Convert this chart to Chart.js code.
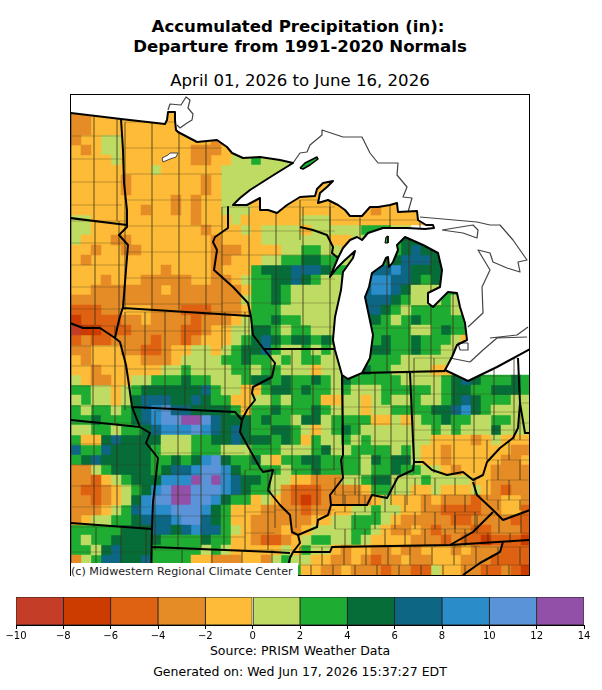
<!DOCTYPE html>
<html>
<head>
<meta charset="utf-8">
<title>Accumulated Precipitation</title>
<script src="https://cdn.jsdelivr.net/npm/chart.js@4/dist/chart.umd.min.js"></script>
<style>
  body { margin: 0; background: #fff; font-family: "DejaVu Sans", sans-serif; color: #000; }
  .txt { position: absolute; left: 0; width: 600px; text-align: center; white-space: nowrap; }
  canvas { position: absolute; }
  #mapChart { left: 71px; top: 95px; outline: 1px solid #000; }
  #barChart { left: 0; top: 590px; }
  #credit { position: absolute; left: 71px; top: 563px; width: 227px; height: 17px; background: #fff; font-size: 11.15px; line-height: 17px; color: #222; white-space: nowrap; }
</style>
</head>
<body>
<div class="txt" style="top:17px;left:-2px;font-size:16.6px;font-weight:bold;line-height:20px">Accumulated Precipitation (in):</div>
<div class="txt" style="top:37px;font-size:16.6px;font-weight:bold;line-height:20px">Departure from 1991-2020 Normals</div>
<div class="txt" style="top:71px;font-size:16.6px;line-height:20px">April 01, 2026 to June 16, 2026</div>
<canvas id="mapChart" width="458" height="480"></canvas>
<div id="credit">(c) Midwestern Regional Climate Center</div>
<canvas id="barChart" width="602" height="53"></canvas>
<div class="txt" style="top:643px;font-size:12.5px;line-height:16px">Source: PRISM Weather Data</div>
<div class="txt" style="top:664px;font-size:12.5px;line-height:16px">Generated on: Wed Jun 17, 2026 15:37:27 EDT</div>

<script>
// colour classes, one letter per 2 inch bin
var classEdges = [-10, -8, -6, -4, -2, 0, 2, 4, 6, 8, 10, 12, 14];
var classCodes = "abcdefghijkl";
var classColors = ["#c43d27", "#cc3c00", "#de6211", "#e58c26", "#fdbb37", "#bedc63",
                   "#1fac32", "#066c38", "#0d6684", "#2a8dca", "#5b93d9", "#9350a8"];

// departure class per map cell (10 map units a cell)
var gridRows = [
  "",
  "ddeeeeeeeeeeeeeeee",
  "ddeeeeeeeeeeeeeeee",
  "ddeeeeeeeeeeeeeeeee",
  "deeffeeeeeeeeeddeee",
  "edeffeeeeeeedddeeffff",
  "eeeefeeeeeeeddeeffgfffff",
  "eeeeeeeefeeeeeefffffff",
  "eeeeedeeeeeeedeffffffffeeee",
  "eeeeedeeeeeeedeffffffffeeee",
  "eeeeeeeeeededeeffeeeeeeeeeeeeeeeeeee",
  "eeeeeeedeededeefffeeeeeeeeeeeedeeeeeee",
  "ffeeeeeeeeeedeeefeeeeeefffeeeeeeeeeeee",
  "ffeeeeeeeeeeedeeefeffffefffffgggff",
  "feeeddeeeeeeeedeeeefffffffeeffggghh",
  "eedeeddeeeeeeedddeeeeffggffefgggghihh",
  "edeeeeeeeeeeeeddeeeffgghhggffggghiiihh",
  "eeeeeeeeedeeeedeeeghhhiiihggggiijihhh",
  "eeedeeedddddeeddefgghhihgffgggjjiihghh",
  "eedddddddedddddddegghgfffffffijjihfffgg",
  "dddddddddddddddddfgghgfffffffiiihgfffgff",
  "cccddeeedddcccdddegggffffffffiihgfggggfg",
  "bccccddeddddcdddefgghggffffffhhgfghggggg",
  "abbcccdddddccdeeffhhgfggfffffgggggffghgg",
  "cdccddddcddcdeeefghihghhghgffgghgghgggfe",
  "ddeeeddccdeeffefghhigffgfgfffghhgghggff",
  "edeeeeedddeffffgghggfgfggffffggggffffff",
  "eedeeeeeeffgffffggfggfffeffffhggffffeef",
  "feddeeffggghggfffghhghgghgfhgggggffffghihggghg",
  "ggffefghhhhhhigffeeghhghggfgfffgggggfghhgghhhg",
  "fgffefhiiihhihggeeffgfgggeeffefgffgffghihgggff",
  "gfggfghijkiihhhhgegghggghgfffeffgggghhijhgffff",
  "gghggghijkkllkihhhghggfhhfggggeefefgghggffggff",
  "ffggfgghijjjkjihihgghhgfefghgfffffffgfgfffhfff",
  "geehihhhhfffgghhihhhghgegffgfgffffffeeeedefeee",
  "iggihhhhgfffgggfffgggfffghffggggfgfeedeeeeeedd",
  "ghihhhhhgghghjkhgghfegghhggggfhghhfeedeeeeedde",
  "ddfghhhhghiijkkjhggggfgghggggfgghggffedeeedddd",
  "ddcefghhhjjjlkljihhgffeedddffghhfffgffffeedddd",
  "dccdefghjkllkkkjihggfdcccddddeggffeefeeefedcdd",
  "ddcdefhjkkllkkjhggefedcbcdddddefeeededddcddeed",
  "dddefgijjjkkkjhgeeeddddcddeeffgffeeddccccddeec",
  "deffgghiiijkkihgeeddddddeeffgggfedddddccddddcc",
  "ggggghhhiihijiigfedddedeffffggfeddedcdddccdddc",
  "gfgghhhhhgggghggeedccdefggffgfeeeedddcdccbcccb",
  "ggfhihhhgggggfgfeeeeefegffedeeddeddeeededddccc",
  "dfgiihhiggggeedddeedfgffeeddedcddeddeeedddccccc",
  "gggggggggggggggggggggggeeddedddcddccfeeddccdcb"
];

// county line blocks: x0, x1, y0, y1, dx, dy, staggered
var countyBlocks = [
  [71, 122, 113, 221, 23, 23, 0],
  [71, 125, 221, 325, 24, 22, 0],
  [125, 222, 122, 310, 27, 26, 0],
  [222, 335, 207, 349, 27, 24, 0],
  [300, 430, 200, 240, 30, 20, 0],
  [365, 465, 240, 373, 22, 22, 0],
  [71, 125, 326, 423, 22, 20, 0],
  [125, 250, 312, 410, 20, 19, 0],
  [71, 150, 423, 527, 23, 21, 0],
  [71, 152, 527, 575, 25, 25, 0],
  [155, 245, 411, 550, 23, 21, 0],
  [245, 275, 470, 550, 23, 21, 0],
  [152, 295, 550, 575, 30, 25, 0],
  [250, 343, 349, 470, 21, 20, 0],
  [275, 335, 470, 528, 21, 20, 0],
  [343, 414, 373, 505, 16, 17, 0],
  [414, 518, 358, 440, 20, 18, 0],
  [414, 487, 440, 473, 20, 18, 0],
  [335, 480, 478, 547, 20, 17, 1],
  [487, 529, 440, 510, 22, 20, 1],
  [520, 529, 403, 440, 22, 20, 0],
  [455, 529, 515, 543, 22, 18, 1],
  [300, 529, 547, 575, 22, 18, 1]
];

// map outlines in map units
var shore = [[70,113],[121,119],[165,124],[167,120],[168,112],[175,112],[175,120],[176,130],[178,132],[197,142],
  [217,140],[227,147],[232,153],[243,158],[260,157],[280,160],[293,163],[272,176],[250,190],[240,198],[233,205],
  [247,205],[260,198],[260,210],[268,210],[277,213],[287,205],[300,197],[315,196],[317,189],[323,183],[333,181],
  [327,187],[320,193],[318,203],[328,200],[338,205],[345,210],[350,216],[362,216],[370,207],[378,207],[390,205],
  [397,203],[398,212],[417,211],[418,220],[426,225],[433,225],[434,228],[425,229],[407,228],[383,228],[368,233],
  [362,240],[357,237],[350,240],[343,248],[338,258],[330,277],[337,268],[345,260],[355,251],[353,258],[343,272],
  [341,290],[335,317],[333,340],[335,350],[342,375],[348,379],[362,373],[370,358],[373,335],[365,297],[369,287],
  [372,273],[383,265],[386,258],[388,257],[389,267],[393,262],[398,250],[397,245],[405,237],[423,245],[438,253],
  [442,270],[440,287],[428,293],[428,303],[433,307],[448,292],[457,293],[460,307],[465,323],[467,340],[457,345],
  [452,357],[445,370],[468,381],[497,367],[530,349]];
var stateLines = [
  [[121,119],[123,150],[124,183],[127,210],[127,227],[119,235],[128,245],[123,307],[119,320],[115,338],[120,342],[126,365],[129,385],[132,407],[140,427],[150,433],[146,443],[158,458],[153,502],[152,528],[151,575]],
  [[70,218],[127,225]],
  [[228,207],[228,228],[215,237],[213,242],[217,250],[214,270],[233,287],[248,303],[251,317],[253,335],[263,348],[275,363],[272,377],[253,387],[252,393],[255,400],[247,410],[242,420],[240,432],[250,450],[260,468],[263,472],[273,470],[268,490],[280,505],[290,515],[292,532],[298,535],[300,543],[293,552],[290,558],[286,575]],
  [[123,308],[250,316]],
  [[70,323],[83,328],[100,328],[115,338]],
  [[70,420],[140,427]],
  [[132,407],[235,412],[242,420]],
  [[70,523],[152,529]],
  [[152,547],[273,552],[290,553]],
  [[263,349],[335,349]],
  [[300,227],[313,230],[327,235],[333,247],[332,253],[338,258]],
  [[362,373],[445,371]],
  [[342,375],[343,455],[341,460],[343,478],[330,495],[331,505]],
  [[410,373],[414,462]],
  [[298,535],[317,527],[318,520],[328,515],[331,505],[353,505],[367,505],[372,495],[387,498],[398,477],[413,470],[414,462],[423,462],[432,470],[447,475],[463,472],[473,480],[483,475],[487,462],[500,448],[513,438],[518,428],[520,403],[518,358]],
  [[520,403],[525,433],[530,433]],
  [[473,482],[477,495],[493,510],[503,520],[530,510]],
  [[493,512],[473,532],[450,545]],
  [[293,552],[330,552],[332,547],[450,545],[530,540]],
  [[503,542],[500,552],[480,563],[463,575]]
];
var greyLines = [
  [[293,163],[300,153],[307,152],[310,145],[322,135],[322,130],[343,137],[362,137],[370,153],[378,163],[398,163],[397,175],[407,187],[403,197],[412,198],[408,212]],
  [[420,217],[477,222],[490,225],[500,225],[513,240],[527,260],[518,262],[520,272],[507,268],[493,262],[490,253],[478,250],[490,270],[482,287],[483,313],[468,327]],
  [[442,230],[473,225],[478,230],[477,238],[463,233],[442,230]],
  [[458,343],[468,343],[468,350],[460,350],[458,343]],
  [[450,358],[470,362],[483,350],[497,338],[527,337]],
  [[490,338],[517,335],[528,327]],
  [[168,110],[170,104],[181,105],[186,97],[190,100],[188,108],[193,114],[192,120],[187,123],[180,128],[177,125]]
];
var redLake = [[163,162],[162,158],[168,155],[170,153],[178,153],[176,157],[170,159],[163,162]];
var isleRoyale = [[300,168],[305,163],[317,157],[318,159],[310,165],[303,169],[300,168]];
var beaverIsland = [[386,237],[388,236],[388,243],[385,243],[386,237]];

function pts(list) {
  return list.map(function (p) { return { x: p[0], y: p[1] }; });
}

function joined(lists) {
  var out = [];
  lists.forEach(function (l) {
    out = out.concat(pts(l));
    out.push({ x: null, y: null });
  });
  return out;
}

function countySegments() {
  var out = [];
  function seg(x0, y0, x1, y1) {
    out.push({ x: x0, y: y0 }, { x: x1, y: y1 }, { x: null, y: null });
  }
  countyBlocks.forEach(function (b) {
    var x, y, odd = 0;
    for (y = b[2]; y < b[3]; y += b[5]) {
      seg(b[0], y, b[1], y);
      for (x = b[0] + (b[6] && odd ? b[4] / 2 : 0); x < b[1]; x += b[4]) {
        seg(x, y, x, Math.min(y + b[5], b[3]));
      }
      odd = 1 - odd;
    }
  });
  return out;
}

function cellsFor(code) {
  var out = [];
  gridRows.forEach(function (row, r) {
    for (var c = 0; c < row.length; c++) {
      if (row.charAt(c) === code) out.push({ x: 76 + 10 * c, y: 100 + 10 * r });
    }
  });
  return out;
}

function outline(data, color, width, order, fillColor) {
  return {
    data: data, showLine: true, pointRadius: 0, borderColor: color, borderWidth: width, order: order,
    fill: fillColor ? "shape" : false, backgroundColor: fillColor || "transparent",
    borderJoinStyle: "round", spanGaps: false
  };
}

var mapSets = [];
classCodes.split("").forEach(function (code, i) {
  mapSets.push({
    data: cellsFor(code), pointStyle: "rect", pointRadius: 7.4, pointBorderWidth: 0,
    pointBackgroundColor: classColors[i], showLine: false, order: 10
  });
});
mapSets.push(outline(countySegments(), "rgba(60,50,30,0.45)", 0.7, 9));
var sea = pts([[70,94]].concat(shore, [[530,94],[70,94]]));
mapSets.push(outline(sea, "transparent", 0, 8, "#ffffff"));
mapSets.push(outline(pts(redLake), "#444444", 1, 7, "#ffffff"));
mapSets.push(outline(joined(greyLines), "#444444", 1.2, 6));
mapSets.push(outline(pts(isleRoyale), "#000000", 1.5, 5, classColors[6]));
mapSets.push(outline(pts(beaverIsland), "#000000", 1, 5, classColors[6]));
mapSets.push(outline(joined(stateLines), "#000000", 2, 4));
mapSets.push(outline(pts(shore), "#000000", 2, 3));

new Chart(document.getElementById("mapChart"), {
  type: "scatter",
  data: { datasets: mapSets },
  options: {
    responsive: false, animation: false, events: [],
    layout: { autoPadding: false, padding: 0 },
    plugins: { legend: { display: false }, tooltip: { enabled: false } },
    scales: {
      x: { type: "linear", display: false, min: 71, max: 529 },
      y: { type: "linear", display: false, min: 95, max: 575, reverse: true }
    }
  }
});

// colorbar
var barSets = classColors.map(function (color, i) {
  return {
    data: [[classEdges[i], classEdges[i + 1]]], backgroundColor: color,
    borderColor: "#222222", borderWidth: 0.8, borderSkipped: false,
    barPercentage: 1, categoryPercentage: 1, grouped: false
  };
});

new Chart(document.getElementById("barChart"), {
  type: "bar",
  data: { labels: [""], datasets: barSets },
  options: {
    indexAxis: "y", responsive: false, animation: false, events: [],
    layout: { autoPadding: false, padding: { left: 16, right: 18, top: 7, bottom: 0 } },
    plugins: { legend: { display: false }, tooltip: { enabled: false } },
    scales: {
      x: {
        type: "linear", min: -10, max: 14,
        border: { color: "#000000", width: 1 },
        grid: { drawOnChartArea: false, tickLength: 4, color: "#000000" },
        ticks: {
          stepSize: 2, maxRotation: 0, autoSkip: false, padding: 1, color: "#000000",
          font: { family: "DejaVu Sans", size: 10 },
          callback: function (v) { return String(v).replace("-", "\u2212"); }
        }
      },
      y: { display: false }
    }
  }
});
</script>
</body>
</html>
